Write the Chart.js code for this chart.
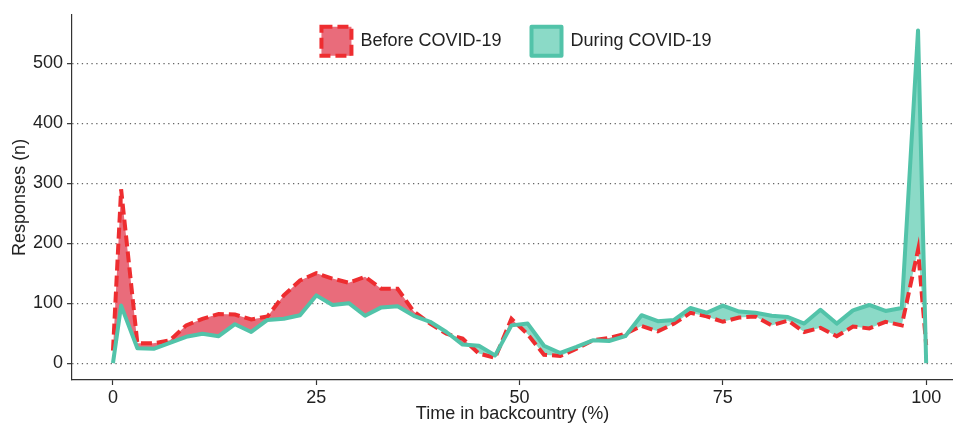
<!DOCTYPE html>
<html lang="en">
<head>
    <meta charset="UTF-8" />
    <title>Responses by time in backcountry</title>
    <script src="https://cdn.jsdelivr.net/npm/chart.js"></script>
    <style>
        body { margin: 0; background: #fff; overflow: hidden; }
        #wrap { width: 953px; height: 425px; position: relative; }
    </style>
</head>
<body>

<div id="wrap"><canvas id="graficoCovid"></canvas></div>

<script>
    // share of time in backcountry (%) - frequency polygon points
    const tiempo = [0, 1, 3, 5, 7, 9, 11, 13, 15, 17, 19, 21, 23, 25, 27, 29, 31, 33, 35, 37, 39,
        41, 43, 45, 47, 49, 51, 53, 55, 57, 59, 61, 63, 65, 67, 69, 71, 73, 75, 77, 79,
        81, 83, 85, 87, 89, 91, 93, 95, 97, 99, 100];

    const antes = [21, 290, 33, 33, 38, 63, 74, 82, 81, 73, 78, 113, 138, 150, 141, 134, 144, 124, 124, 86, 66,
        49, 41, 16, 9, 74, 48, 14, 12, 24, 38, 42, 49, 62, 53, 66, 84, 78, 69, 76, 78,
        63, 71, 52, 59, 45, 61, 58, 69, 63, 189, 30];

    const durante = [0, 96, 25, 24, 34, 44, 49, 45, 65, 52, 72, 74, 80, 113, 97, 100, 79, 93, 95, 79, 69,
        52, 31, 29, 13, 63, 66, 29, 17, 27, 38, 37, 45, 80, 70, 72, 92, 84, 96, 86, 84,
        79, 77, 66, 89, 66, 88, 97, 87, 92, 555, 0];

    const ticksX = [0, 25, 50, 75, 100];
    const ticksY = [0, 100, 200, 300, 400, 500];

    const rojo = "#ee2d30";
    const rosa = "#e96c7b";
    const verde = "#52c3a9";
    const verdeClaro = "#8bdac7";
    const fuente = "'Liberation Sans', Arial, sans-serif";

    // legend drawn inside the panel: takes no height in the layout,
    // then gets its height back and is moved a little
    const leyendaDentro = {
        id: "leyendaDentro",
        beforeInit(chart) {
            const fitOriginal = chart.legend.fit;
            chart.legend.fit = function () {
                fitOriginal.call(this);
                this.height = 0;
            };
        },
        afterLayout(chart) {
            const ley = chart.legend;
            ley.top -= 18;
            ley.height = 80;
            ley.bottom = ley.top + 80;
            ley.left += 4;
            ley.right += 4;
        }
    };

    new Chart(document.getElementById("graficoCovid"), {
        type: "line",
        data: {
            datasets: [
                {
                    label: "During COVID-19",
                    data: tiempo.map((x, i) => ({ x: x, y: durante[i] })),
                    borderColor: verde,
                    backgroundColor: verdeClaro,
                    borderWidth: 4,
                    borderJoinStyle: "round",
                    pointRadius: 0,
                    fill: false
                },
                {
                    label: "Before COVID-19",
                    data: tiempo.map((x, i) => ({ x: x, y: antes[i] })),
                    borderColor: rojo,
                    backgroundColor: rosa,
                    borderWidth: 4,
                    borderDash: [11, 5],
                    pointRadius: 0,
                    fill: { target: 0, above: rosa, below: verdeClaro }
                }
            ]
        },
        options: {
            responsive: true,
            maintainAspectRatio: false,
            animation: false,
            layout: { padding: { top: 12, right: 0, bottom: 0, left: 0 } },
            plugins: {
                filler: { drawTime: "beforeDatasetsDraw" },
                tooltip: { enabled: false },
                legend: {
                    position: "top",
                    fullSize: false,
                    align: "center",
                    labels: {
                        boxWidth: 30,
                        boxHeight: 29,
                        padding: 30,
                        color: "#222",
                        font: { family: fuente, size: 18 },
                        sort: (a, b) => b.datasetIndex - a.datasetIndex
                    }
                }
            },
            scales: {
                x: {
                    type: "linear",
                    min: -5.04,
                    max: 103.3,
                    afterBuildTicks: s => { s.ticks = ticksX.map(v => ({ value: v })); },
                    afterFit: s => { s.height = 45; },
                    grid: { drawOnChartArea: false, drawTicks: true, tickLength: 5, tickColor: "#333", tickWidth: 1.2 },
                    border: { display: true, color: "#333", width: 1.2 },
                    ticks: { color: "#222", padding: 2, maxRotation: 0, font: { family: fuente, size: 18 } },
                    title: {
                        display: true,
                        text: "Time in backcountry (%)",
                        color: "#222",
                        font: { family: fuente, size: 18 },
                        padding: { top: 0, bottom: 0 }
                    }
                },
                y: {
                    min: -28.1,
                    max: 581,
                    afterBuildTicks: s => { s.ticks = ticksY.map(v => ({ value: v })); },
                    afterFit: s => { s.width = 72; },
                    grid: { color: "#666", lineWidth: 1.3, tickLength: 5, tickColor: "#333", tickWidth: 1.2 },
                    border: { display: true, color: "#333", width: 1.2, dash: [1.3, 3.5] },
                    ticks: { color: "#222", padding: 4, font: { family: fuente, size: 18 } },
                    title: {
                        display: true,
                        text: "Responses (n)",
                        color: "#222",
                        font: { family: fuente, size: 18 },
                        padding: { top: 9, bottom: 0 }
                    }
                }
            }
        },
        plugins: [leyendaDentro]
    });
</script>
</body>
</html>
